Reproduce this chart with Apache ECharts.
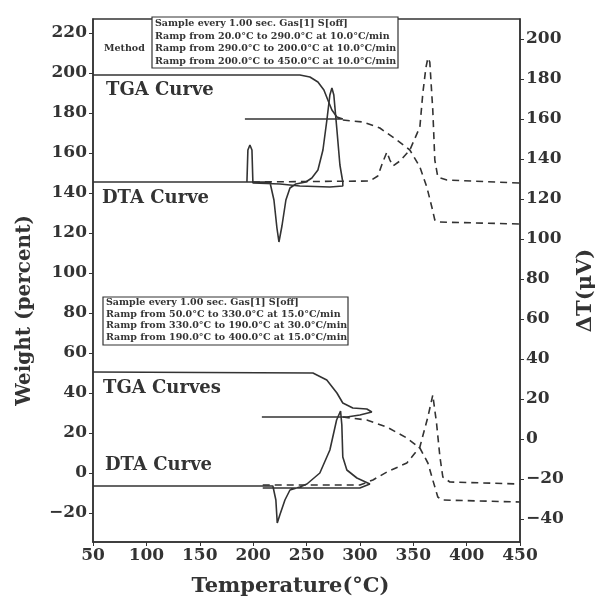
<!DOCTYPE html>
<html><head><meta charset="utf-8">
<script src="https://cdn.jsdelivr.net/npm/echarts@6/dist/echarts.min.js"></script>
<style>html,body{margin:0;padding:0;background:#fff}#c{width:596px;height:603px}</style>
</head><body><div id="c"></div>
<script>
// Tick label values
const weightTicks = [-20, 0, 20, 40, 60, 80, 100, 120, 140, 160, 180, 200, 220];
const deltaTTicks = [-40, -20, 0, 20, 40, 60, 80, 100, 120, 140, 160, 180, 200];

// Upper run (sample 1): [temperature °C, weight %]
const tgaTopHeat = [[50,199],[243.8,199],[253.2,198],[260.7,195.5],[266.3,191.5],[270,186.5],[273.8,181.5],[278.5,178],[284,177],[192.3,177]];
const tgaTopReheat = [[284,176.5],[302.8,175.5],[318.7,172.5],[334.6,166.5],[346.8,161.5],[356.2,153],[362.7,143],[367.4,133],[370.2,126.5],[373,125.5],[449.8,124.5]];
// Upper run: [temperature °C, ΔT µV]
const dtaTopHeat = [[50,128.5],[215.7,128.5],[219.5,119.5],[222.3,105.5],[224.2,98.5],[227,106.5],[230.7,119.5],[234.5,125.5],[240,127.5],[249.4,128.5],[255,130.5],[260.7,134.5],[265.4,144.5],[269.1,159.5],[271.9,172],[273.8,175.5],[275.6,172],[278.5,154.5],[281.3,137],[284,128.5],[284,126.5],[271.9,126],[243.8,126.5],[225.1,127.5],[199.8,128],[198.9,144.5],[197,147],[195.1,144.5],[194.2,128.5]];
const dtaTopReheat = [[199.8,128.5],[309.4,129],[316.8,131.5],[321.5,138.5],[325.3,143.5],[328.1,139.5],[330.9,136.5],[337.5,139],[346.8,144.5],[356.2,156],[359,173],[361.8,185.5],[363.7,190.5],[365.5,188.5],[368.3,164.5],[370.2,139.5],[373,131],[381.5,129.5],[449.8,128]];

// Lower run (sample 2)
const tgaBotHeat = [[50,50.5],[256,50],[269,46.5],[278.5,40],[284,35],[293.4,32.5],[306.5,32],[311.2,30.5],[300,29],[287.8,28],[208.2,28]];
const tgaBotReheat = [[284,28],[306.5,26.5],[325.3,23],[344,17.5],[356.2,12.5],[363.7,5],[368.3,-3.5],[373,-12],[376.8,-13.5],[449.8,-14.5]];
const dtaBotHeat = [[50,-23.5],[218.5,-23.5],[221.3,-30.5],[222.6,-42],[225,-38],[229.8,-30.5],[234.5,-25.5],[243.8,-24],[250.4,-22.5],[262.5,-17],[271.9,-5.5],[278.2,9.5],[281.9,14],[283.1,7],[284,-9],[287.8,-15.5],[297.2,-19.5],[309.4,-22.5],[300,-24.5],[250.4,-24.5],[209,-24.5]];
const dtaBotReheat = [[209,-23],[300,-23],[312.2,-20.5],[325.3,-16.5],[344,-12],[356.2,-4],[363.7,11],[368.3,22],[371.8,8],[375,-9],[377.7,-19],[384.3,-21.5],[449.8,-22.5]];

const methodTop = ['Sample every 1.00 sec. Gas[1] S[off]','Ramp from 20.0°C to 290.0°C at 10.0°C/min','Ramp from 290.0°C to 200.0°C at 10.0°C/min','Ramp from 200.0°C to 450.0°C at 10.0°C/min'];
const methodBot = ['Sample every 1.00 sec. Gas[1] S[off]','Ramp from 50.0°C to 330.0°C at 15.0°C/min','Ramp from 330.0°C to 190.0°C at 30.0°C/min','Ramp from 190.0°C to 400.0°C at 15.0°C/min'];

const INK = '#333';
const FONT = 'DejaVu Serif';
const chart = echarts.init(document.getElementById('c'), null, {renderer:'canvas'});

function line(data, yi, dashed){
  return {type:'line', data:data, yAxisIndex:yi, showSymbol:false, symbol:'none', animation:false,
    lineStyle:{color:INK, width:1.6, type: dashed ? [7,5] : 'solid'}, z:3};
}
const lbl = {color:INK, fontFamily:FONT, fontWeight:'bold', fontSize:17};
const minus = v => String(v).replace('-', '\u2212');

function boxTexts(lines, x, y, dy){
  return lines.map((t,i)=>({type:'text', left:x, top:y+i*dy, z:10,
    style:{text:t, fill:INK, font:'bold 9.5px "DejaVu Serif"'}}));
}
function label(t, x, y){
  return {type:'text', left:x, top:y, z:10, style:{text:t, fill:INK, font:'bold 18px "DejaVu Serif"'}};
}

chart.setOption({
  backgroundColor:'#fff',
  animation:false,
  grid:{left:93, right:76, top:19, bottom:61, show:true, borderColor:INK, borderWidth:1.5,
    containLabel:false, outerBoundsMode:'none'},
  xAxis:{type:'value', min:50, max:450, interval:50,
    axisLine:{onZero:false, lineStyle:{color:INK, width:1.5}},
    axisTick:{length:4, lineStyle:{color:INK}}, splitLine:{show:false},
    axisLabel:Object.assign({margin:5}, lbl),
    name:'Temperature(°C)', nameLocation:'middle', nameGap:34,
    nameTextStyle:{color:INK, fontFamily:FONT, fontWeight:'bold', fontSize:21, padding:[0,32,0,0]}},
  yAxis:[
    {type:'value', min:-34.5, max:227, position:'left',
      axisLine:{show:true, onZero:false, lineStyle:{color:INK, width:1.5}}, splitLine:{show:false},
      axisTick:{show:true, length:4, customValues:weightTicks, lineStyle:{color:INK}},
      axisLabel:Object.assign({margin:6, customValues:weightTicks, formatter:minus}, lbl),
      name:'Weight (percent)', nameLocation:'middle', nameRotate:90, nameGap:58,
      nameTextStyle:{color:INK, fontFamily:FONT, fontWeight:'bold', fontSize:20, padding:[0,60,0,0]}},
    {type:'value', min:-51.5, max:210, position:'right',
      axisLine:{show:true, onZero:false, lineStyle:{color:INK, width:1.5}}, splitLine:{show:false},
      axisTick:{show:true, length:4, customValues:deltaTTicks, lineStyle:{color:INK}},
      axisLabel:Object.assign({margin:6, customValues:deltaTTicks, formatter:minus}, lbl),
      name:'ΔT(μV)', nameLocation:'middle', nameRotate:90, nameGap:52,
      nameTextStyle:{color:INK, fontFamily:FONT, fontWeight:'bold', fontSize:21, padding:[0,20,0,0]}}
  ],
  series:[
    line(tgaTopHeat,0,false), line(tgaTopReheat,0,true),
    line(dtaTopHeat,1,false), line(dtaTopReheat,1,true),
    line(tgaBotHeat,0,false), line(tgaBotReheat,0,true),
    line(dtaBotHeat,1,false), line(dtaBotReheat,1,true)
  ],
  graphic:[
    {type:'rect', shape:{x:152, y:17, width:246, height:51}, style:{fill:'#fff', stroke:INK, lineWidth:1.2}, z:9},
    {type:'text', left:104, top:44, z:10, style:{text:'Method', fill:INK, font:'bold 9.5px "DejaVu Serif"'}},
    ...boxTexts(methodTop, 155, 19, 12.5),
    {type:'rect', shape:{x:103, y:297, width:245, height:48}, style:{fill:'#fff', stroke:INK, lineWidth:1.2}, z:9},
    ...boxTexts(methodBot, 106, 298, 11.5),
    label('TGA Curve', 106, 81),
    label('DTA Curve', 102, 189),
    label('TGA Curves', 103, 379),
    label('DTA Curve', 105, 456)
  ]
});
</script></body></html>
